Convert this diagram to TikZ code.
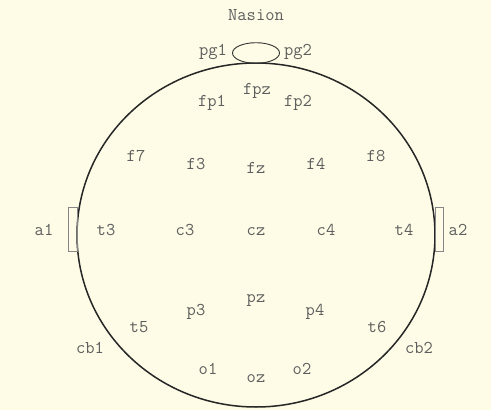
\documentclass[tikz,border=0pt]{standalone}
\usepackage{fontspec}
\definecolor{bg}{HTML}{FEFCE6}
\definecolor{txt}{HTML}{5E5E5E}
\definecolor{rectc}{HTML}{858585}
\begin{document}
\begin{tikzpicture}[x=1pt,y=-1pt,
  lbl/.style={font=\ttfamily\fontsize{18}{18}\selectfont, text=txt, inner sep=0pt, anchor=base},
  head/.style={draw=black!85, line width=1.5pt},
  nose/.style={draw=black!80, line width=0.9pt},
  ear/.style={draw=rectc, line width=0.7pt}]
\fill[bg] (0,0) rectangle (491,410);
\useasboundingbox (0,0) rectangle (491,410);
\draw[head] (256,235) ellipse [x radius=179, y radius=172];
\draw[nose] (256,53) ellipse [x radius=23.5, y radius=10.3];
\draw[ear] (68.5,207) rectangle (77,251);
\draw[ear] (435,207) rectangle (443,251);
% labels (base anchored; y is baseline)
\node[lbl] (nasion) at (256,20) {Nasion};
\node[lbl] (pg1) at (213,55) {pg1};
\node[lbl] (pg2) at (298,55) {pg2};
\node[lbl] (fpz) at (257,94) {fpz};
\node[lbl] (fp1) at (212,106) {fp1};
\node[lbl] (fp2) at (298,106) {fp2};
\node[lbl] (f7) at (136,161) {f7};
\node[lbl] (f3) at (196,169) {f3};
\node[lbl] (fz) at (256,173) {fz};
\node[lbl] (f4) at (316,169) {f4};
\node[lbl] (f8) at (376,161) {f8};
\node[lbl] (a1) at (44,235) {a1};
\node[lbl] (t3) at (106,235) {t3};
\node[lbl] (c3) at (185,235) {c3};
\node[lbl] (cz) at (256,235) {cz};
\node[lbl] (c4) at (326,235) {c4};
\node[lbl] (t4) at (404,235) {t4};
\node[lbl] (a2) at (458,235) {a2};
\node[lbl] (pz) at (256,302) {pz};
\node[lbl] (p3) at (196,315) {p3};
\node[lbl] (p4) at (315,315) {p4};
\node[lbl] (t5) at (139,332) {t5};
\node[lbl] (t6) at (377,332) {t6};
\node[lbl] (cb1) at (90,353) {cb1};
\node[lbl] (cb2) at (419,353) {cb2};
\node[lbl] (o1) at (208,374) {o1};
\node[lbl] (o2) at (302,374) {o2};
\node[lbl] (oz) at (256,382) {oz};
\end{tikzpicture}
\end{document}
